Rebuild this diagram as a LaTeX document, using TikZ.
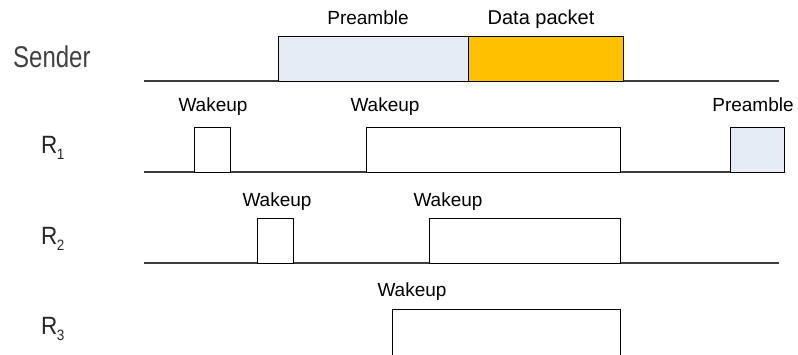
\documentclass[tikz,border=0pt]{standalone}
\usepackage{fontspec}
\setmainfont{Liberation Sans}
\definecolor{preamblefill}{RGB}{230,236,246}
\definecolor{datafill}{RGB}{255,192,0}
\definecolor{axisgray}{RGB}{60,60,60}
\tikzset{
  timeline/.style={draw=axisgray, line width=1.3pt},
  slot/.style={draw=black, line width=0.8pt, fill=white, inner sep=0pt, outer sep=0pt,
               anchor=south west, minimum height=45pt},
  pre/.style={slot, fill=preamblefill},
  dat/.style={slot, fill=datafill},
  lbl/.style={inner sep=0pt, anchor=base, font=\fontsize{19}{19}\selectfont},
  rowname/.style={inner sep=0pt, anchor=base west, font=\fontsize{30}{30}\selectfont, xscale=0.8, text=black!75},
  rxname/.style={inner sep=0pt, anchor=base west, font=\fontsize{25}{25}\selectfont, xscale=0.9, text=black!85},
}
\newcommand{\rlabel}[1]{R\kern-0.5pt\raisebox{-6.5pt}{\fontsize{15}{15}\selectfont #1}}
\begin{document}
\begin{tikzpicture}[x=1pt, y=-1pt]
  \useasboundingbox (0,0) rectangle (798,354);

  % row names
  \node[rowname] (ns) at (13,67) {Sender};
  \node[rxname] (n1) at (41,153) {\rlabel{1}};
  \node[rxname] (n2) at (41,244) {\rlabel{2}};
  \node[rxname] (n3) at (41,334) {\rlabel{3}};

  % time axes
  \coordinate (s0) at (144,81);  \coordinate (s1) at (779,81);
  \coordinate (a0) at (144,172); \coordinate (a1) at (784,172);
  \coordinate (b0) at (144,263); \coordinate (b1) at (779,263);
  \draw[timeline] (s0) -- (s1);
  \draw[timeline] (a0) -- (a1);
  \draw[timeline] (b0) -- (b1);

  % sender transmission
  \node[pre, minimum width=190pt] (spre) at (278,81) {};
  \node[dat, minimum width=155pt] (sdat) at (468,81) {};
  \node[lbl] (tspre) at (368,24) {Preamble};
  \node[lbl, font=\fontsize{20}{20}\selectfont] (tsdat) at (541,24) {Data packet};

  % receiver 1
  \node[slot, minimum width=36pt] (r1a) at (194,172) {};
  \node[slot, minimum width=254pt] (r1b) at (366,172) {};
  \node[pre, minimum width=54pt] (r1p) at (730,172) {};
  \node[lbl] (t1a) at (213,111) {Wakeup};
  \node[lbl] (t1b) at (385,111) {Wakeup};
  \node[lbl] (t1p) at (753,111) {Preamble};

  % receiver 2
  \node[slot, minimum width=36pt] (r2a) at (257,263) {};
  \node[slot, minimum width=191pt] (r2b) at (429,263) {};
  \node[lbl] (t2a) at (277,206) {Wakeup};
  \node[lbl] (t2b) at (448,206) {Wakeup};

  % receiver 3 (runs past the lower edge)
  \node[slot, minimum width=228pt, minimum height=60pt] (r3b) at (392,369) {};
  \node[lbl] (t3b) at (412,296) {Wakeup};
\end{tikzpicture}
\end{document}
